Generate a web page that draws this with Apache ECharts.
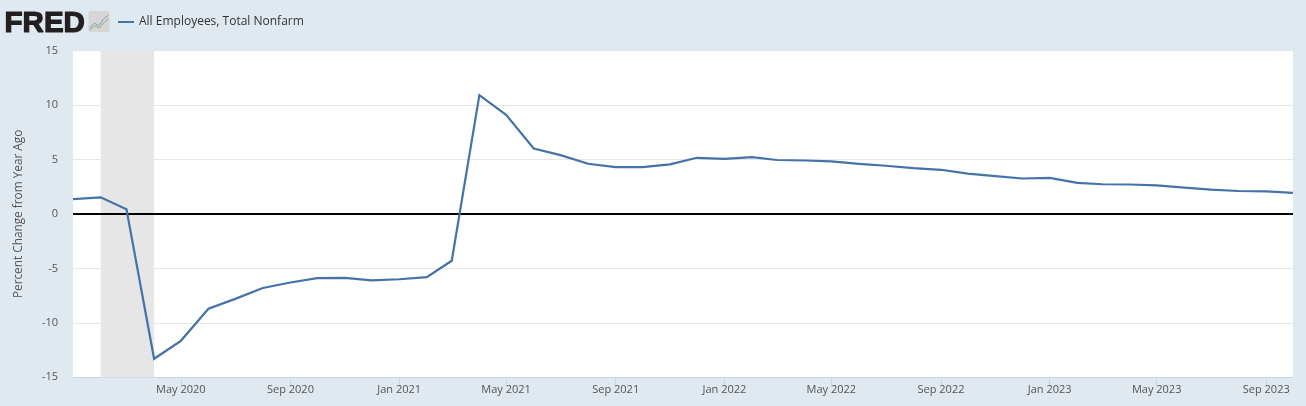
<!DOCTYPE html>
<html><head><meta charset="utf-8">
<style>html,body{margin:0;padding:0;background:#e1e9f0}#c{width:1306px;height:406px}</style>
<script src="https://cdn.jsdelivr.net/npm/echarts@6/dist/echarts.min.js"></script>
</head><body><div id="c"></div>
<script>
const seriesName = 'All Employees, Total Nonfarm';
const yAxisTitle = 'Percent Change from Year Ago';
const startYear = 2020;
const values = [1.35,1.52,0.42,-13.3,-11.65,-8.7,-7.8,-6.8,-6.3,-5.9,-5.88,-6.1,-6.0,-5.8,-4.3,10.9,9.1,6.0,5.4,4.6,4.3,4.3,4.55,5.15,5.05,5.22,4.95,4.9,4.83,4.6,4.42,4.2,4.05,3.7,3.47,3.25,3.3,2.85,2.72,2.7,2.62,2.42,2.23,2.1,2.07,1.93];
const tickDates = ['2020-05-01','2020-09-01','2021-01-01','2021-05-01','2021-09-01','2022-01-01','2022-05-01','2022-09-01','2023-01-01','2023-05-01','2023-09-01'];
const recession = ['2020-02-01','2020-04-01'];
const months = ['Jan','Feb','Mar','Apr','May','Jun','Jul','Aug','Sep','Oct','Nov','Dec'];
const ms = s => Date.parse(s + 'T00:00:00Z');
const points = values.map((v,i)=>[Date.UTC(startYear,i,1),v]);
const font = '"Open Sans"';
const chart = echarts.init(document.getElementById('c'),null,{renderer:'canvas'});
chart.setOption({
  animation:false,
  backgroundColor:'#e1e9f0',
  textStyle:{fontFamily:font},
  legend:{left:113,top:11,itemWidth:16,itemHeight:2,itemGap:5,icon:'rect',
    textStyle:{fontFamily:font,fontSize:12,color:'#333',padding:[1,0,0,0]},data:[seriesName]},
  grid:{left:73,right:13,top:50.5,bottom:28.7,backgroundColor:'#fff',show:true,borderWidth:0},
  xAxis:{type:'value',min:points[0][0],max:points[points.length-1][0],scale:true,
    axisLine:{onZero:false,lineStyle:{color:'#ccd6eb',width:1}},
    axisTick:{length:9,lineStyle:{color:'#ccd6eb'},customValues:tickDates.map(ms)},
    splitLine:{show:false},
    axisLabel:{customValues:tickDates.map(ms),color:'#555',fontSize:11,margin:7,hideOverlap:false,
      formatter:v=>{const d=new Date(v);return months[d.getUTCMonth()]+' '+d.getUTCFullYear();}}},
  yAxis:{type:'value',min:-15,max:15,interval:5,
    name:yAxisTitle,nameLocation:'middle',nameGap:48,
    nameTextStyle:{color:'#555',fontSize:11.8,fontFamily:font},
    axisLine:{show:false},axisTick:{show:false},
    axisLabel:{color:'#555',fontSize:11,margin:15,verticalAlign:'middle',padding:[3,0,0,0]},
    splitLine:{lineStyle:{color:'#e6e6e6',width:1}}},
  series:[{name:seriesName,type:'line',data:points,showSymbol:false,symbol:'none',
    lineStyle:{color:'#4572a7',width:2.2,join:'miter'},itemStyle:{color:'#4572a7'},
    z:5,
    markArea:{silent:true,itemStyle:{color:'#e6e6e6',opacity:1},z:1,
      data:[[{xAxis:ms(recession[0])},{xAxis:ms(recession[1])}]]},
    markLine:{silent:true,symbol:'none',label:{show:false},animation:false,
      lineStyle:{color:'#000',width:2,type:'solid'},data:[{yAxis:0}]}
  }],
  graphic:[
    {type:'text',left:4,top:8,style:{text:'FRED',fontFamily:'"Liberation Sans"',fontWeight:'bold',fontSize:29.5,fill:'#231f20',stroke:'#231f20',lineWidth:1.2}},
    {type:'group',left:87,top:11,children:[
      {type:'rect',shape:{x:0,y:0,width:21,height:21,r:2},style:{fill:'#d6d6d6'}},
      {type:'polyline',shape:{points:[[1,17],[6,12],[10,15],[15,8],[20,4]]},style:{stroke:'#7a9cbf',fill:null,lineWidth:1}},
      {type:'polyline',shape:{points:[[1,19],[6,15],[11,17],[16,11],[20,8]]},style:{stroke:'#8fb56e',fill:null,lineWidth:1}}
    ]}
  ]
});
</script></body></html>
